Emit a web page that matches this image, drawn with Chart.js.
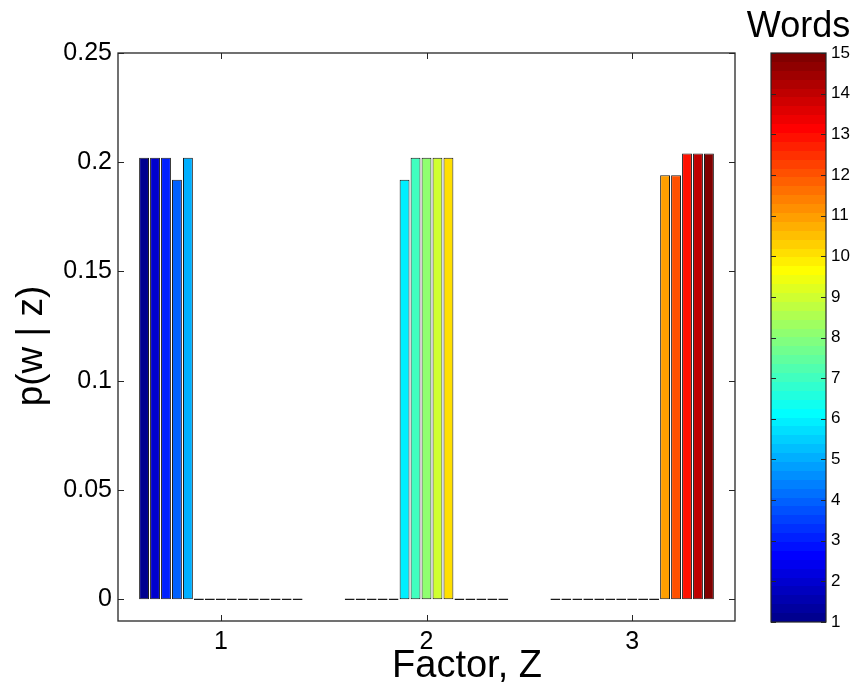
<!DOCTYPE html>
<html>
<head>
<meta charset="utf-8">
<script src="https://cdn.jsdelivr.net/npm/chart.js@4.4.1/dist/chart.umd.min.js"></script>
<style>
  html, body { margin: 0; padding: 0; background: #ffffff; }
  #wrap { position: relative; width: 855px; height: 687px; }
  #wrap canvas { position: absolute; left: 0; top: 0; }
</style>
</head>
<body>
<div id="wrap">
  <canvas id="barChart" width="855" height="687"></canvas>
  <canvas id="colorBar" width="855" height="687"></canvas>
</div>
<script>
// factors along x, one value of p(w | z) per word (1..15)
const factorLabels = ['1', '2', '3'];
const wordLabels = ['1', '2', '3', '4', '5', '6', '7', '8', '9', '10', '11', '12', '13', '14', '15'];
const factor1 = [0.202, 0.202, 0.202, 0.192, 0.202, 0, 0, 0, 0, 0, 0, 0, 0, 0, 0];
const factor2 = [0, 0, 0, 0, 0, 0.192, 0.202, 0.202, 0.202, 0.202, 0, 0, 0, 0, 0];
const factor3 = [0, 0, 0, 0, 0, 0, 0, 0, 0, 0, 0.194, 0.194, 0.204, 0.204, 0.204];

const yTicks = [0, 0.05, 0.1, 0.15, 0.2, 0.25];
const yTickLabels = ['0', '0.05', '0.1', '0.15', '0.2', '0.25'];
const yRange = [-0.01, 0.25];

const cbarRange = [1, 15];
const cbarTicks = [1, 2, 3, 4, 5, 6, 7, 8, 9, 10, 11, 12, 13, 14, 15];

const FONT = "'Liberation Sans', Arial, Helvetica, sans-serif";
const EDGE = '#1a1a1a';
const TICK = 6;

Chart.defaults.font.family = FONT;
Chart.defaults.color = '#000000';

// 64-level jet colormap, index 1..64
function jet64(i) {
  let r, g, b;
  if (i <= 24) r = 0; else if (i <= 40) r = (i - 24) / 16; else if (i <= 56) r = 1; else r = 1 - (i - 56) / 16;
  if (i <= 8) g = 0; else if (i <= 24) g = (i - 8) / 16; else if (i <= 40) g = 1; else if (i <= 56) g = 1 - (i - 40) / 16; else g = 0;
  if (i <= 8) b = 0.5 + i / 16; else if (i <= 24) b = 1; else if (i <= 40) b = 1 - (i - 24) / 16; else b = 0;
  const c = v => Math.round(v * 255);
  return `rgb(${c(r)}, ${c(g)}, ${c(b)})`;
}

// map word number onto the colormap the same way the colorbar does
function wordColor(k) {
  const idx = Math.min(64, Math.floor((k - 1) * 64 / (cbarRange[1] - cbarRange[0])) + 1);
  return jet64(idx);
}

const factorValues = [factor1, factor2, factor3];
const datasets = wordLabels.map((w, k) => ({
  label: w,
  data: factorValues.map(f => f[k]),
  backgroundColor: wordColor(k + 1),
  borderColor: EDGE,
  borderWidth: 1,
  borderSkipped: false,
  minBarLength: 1.5,
  categoryPercentage: 0.8,
  barPercentage: 0.9
}));

// box around the axes with inward ticks, plus axis labels
const axesFrame = {
  id: 'axesFrame',
  afterDraw(chart) {
    const { ctx, chartArea: a, scales: { x, y } } = chart;
    ctx.save();
    ctx.strokeStyle = '#262626';
    ctx.lineWidth = 1.3;
    ctx.strokeRect(a.left, a.top, a.width, a.height);
    ctx.beginPath();
    x.ticks.forEach((t, i) => {
      const px = Math.round(x.getPixelForTick(i)) + 0.5;
      ctx.moveTo(px, a.bottom); ctx.lineTo(px, a.bottom - TICK);
      ctx.moveTo(px, a.top); ctx.lineTo(px, a.top + TICK);
    });
    y.ticks.forEach(t => {
      const py = Math.round(y.getPixelForValue(t.value)) + 0.5;
      ctx.moveTo(a.left, py); ctx.lineTo(a.left + TICK, py);
      ctx.moveTo(a.right, py); ctx.lineTo(a.right - TICK, py);
    });
    ctx.lineWidth = 1;
    ctx.stroke();

    ctx.fillStyle = '#000000';
    ctx.font = `38px ${FONT}`;
    ctx.textAlign = 'center';
    ctx.textBaseline = 'alphabetic';
    ctx.fillText('Factor, Z', 467, 677);

    ctx.font = `37px ${FONT}`;
    ctx.translate(32, 346);
    ctx.rotate(-Math.PI / 2);
    ctx.textBaseline = 'middle';
    ctx.fillText('p(w | z)', 0, 0);
    ctx.restore();
  }
};

new Chart(document.getElementById('barChart'), {
  type: 'bar',
  data: { labels: factorLabels, datasets: datasets },
  options: {
    responsive: false,
    animation: false,
    layout: { padding: { left: 0, top: 53, right: 120, bottom: 0 } },
    plugins: { legend: { display: false }, tooltip: { enabled: false } },
    scales: {
      x: {
        grid: { display: false, drawTicks: false },
        border: { display: false },
        ticks: { font: { size: 25 }, color: '#000', padding: 6 },
        afterFit: s => { s.height = 66; }
      },
      y: {
        min: yRange[0],
        max: yRange[1],
        grid: { display: false, drawTicks: false },
        border: { display: false },
        afterBuildTicks: s => { s.ticks = yTicks.map(v => ({ value: v })); },
        ticks: {
          font: { size: 25 },
          color: '#000',
          padding: 6,
          callback: (v, i) => yTickLabels[i]
        },
        afterFit: s => { s.width = 118; }
      }
    }
  },
  plugins: [axesFrame]
});

// stepped jet fill for the colorbar
function jetGradient(chart) {
  const a = chart.chartArea;
  if (!a) return null;
  const g = chart.ctx.createLinearGradient(0, a.bottom, 0, a.top);
  for (let i = 0; i < 64; i++) {
    const c = jet64(i + 1);
    g.addColorStop(i / 64, c);
    g.addColorStop((i + 1) / 64, c);
  }
  return g;
}

const colorbarFrame = {
  id: 'colorbarFrame',
  afterDraw(chart) {
    const { ctx, chartArea: a, scales: { y } } = chart;
    ctx.save();
    ctx.strokeStyle = '#262626';
    ctx.lineWidth = 1.2;
    ctx.strokeRect(a.left, a.top, a.width, a.height);
    ctx.beginPath();
    y.ticks.forEach(t => {
      const py = Math.round(y.getPixelForValue(t.value)) + 0.5;
      ctx.moveTo(a.left, py); ctx.lineTo(a.left + 5, py);
      ctx.moveTo(a.right, py); ctx.lineTo(a.right - 5, py);
    });
    ctx.lineWidth = 1;
    ctx.stroke();
    ctx.fillStyle = '#000000';
    ctx.font = `36px ${FONT}`;
    ctx.textAlign = 'center';
    ctx.textBaseline = 'alphabetic';
    ctx.fillText('Words', (a.left + a.right) / 2, 37);
    ctx.restore();
  }
};

new Chart(document.getElementById('colorBar'), {
  type: 'bar',
  data: {
    labels: ['Words'],
    datasets: [{
      data: [cbarRange],
      backgroundColor: c => jetGradient(c.chart),
      borderWidth: 0,
      categoryPercentage: 1,
      barPercentage: 1
    }]
  },
  options: {
    responsive: false,
    animation: false,
    layout: { padding: { left: 771, top: 53, right: 0, bottom: 65 } },
    plugins: { legend: { display: false }, tooltip: { enabled: false } },
    scales: {
      x: { display: false },
      y: {
        position: 'right',
        min: cbarRange[0],
        max: cbarRange[1],
        grid: { display: false, drawTicks: false },
        border: { display: false },
        afterBuildTicks: s => { s.ticks = cbarTicks.map(v => ({ value: v })); },
        ticks: { font: { size: 17 }, color: '#000', padding: 5 },
        afterFit: s => { s.width = 29; }
      }
    }
  },
  plugins: [colorbarFrame]
});
</script>
</body>
</html>
